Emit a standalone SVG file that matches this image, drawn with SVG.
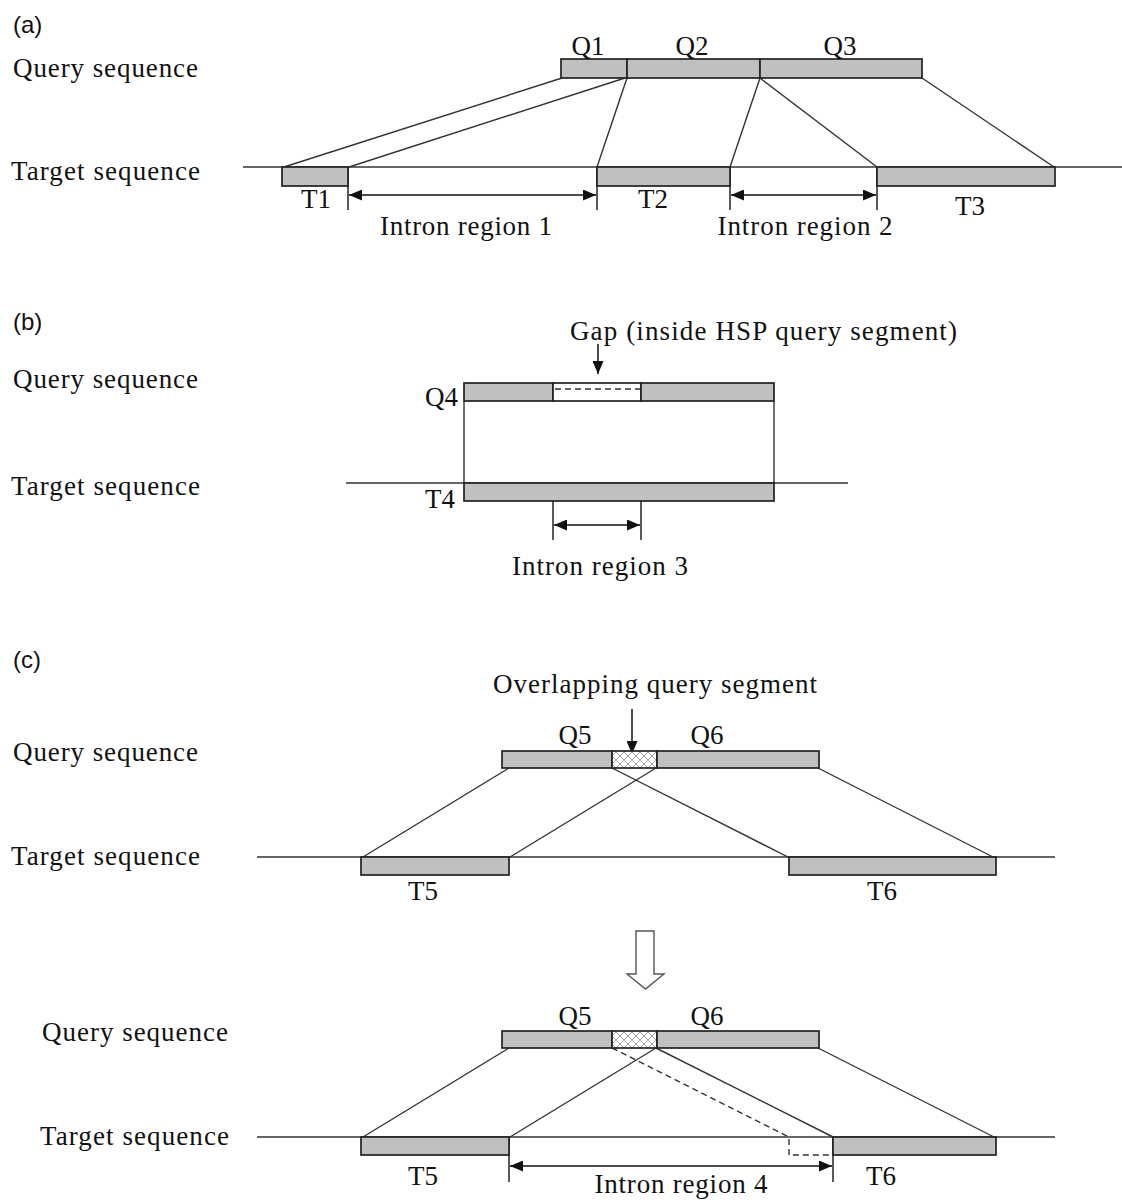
<svg xmlns="http://www.w3.org/2000/svg" width="1122" height="1203" viewBox="0 0 1122 1203">
<style>
  text { font-family: "Liberation Serif", "Times New Roman", serif; font-size: 27px; fill: #111; }
  .pl { font-family: "Liberation Sans", Arial, sans-serif; font-size: 24px; }
  .mid { text-anchor: middle; }
  .end { text-anchor: end; }
  .seg { fill: #c0c0c0; stroke: #222; stroke-width: 1.7; }
  .gap { fill: #fff; stroke: #222; stroke-width: 1.7; }
  .hatch { fill: url(#xh); stroke: #222; stroke-width: 1.7; }
  .ln { stroke: #333; stroke-width: 1.4; fill: none; }
  .tick { stroke: #222; stroke-width: 1.5; fill: none; }
  .dash { stroke: #333; stroke-width: 1.4; fill: none; stroke-dasharray: 6 4; }
  .dbl { stroke: #111; stroke-width: 1.5; fill: none; marker-start: url(#ah); marker-end: url(#ah); }
  .down { stroke: #111; stroke-width: 1.5; fill: none; marker-end: url(#ah); }
</style>
<defs>
  <marker id="ah" markerWidth="13" markerHeight="11" refX="13" refY="5.5" orient="auto-start-reverse" markerUnits="userSpaceOnUse">
    <path d="M0,0 L13,5.5 L0,11 z" fill="#111"/>
  </marker>
  <pattern id="xh" width="8" height="8" patternUnits="userSpaceOnUse">
    <rect width="8" height="8" fill="#fff"/>
    <path d="M0,0 L8,8 M8,0 L0,8" stroke="#9a9a9a" stroke-width="0.9"/>
  </pattern>
</defs>

<!-- Panel (a) -->
<g id="panel-a-labels">
  <text class="pl" x="13" y="33">(a)</text>
  <text x="13" y="77" textLength="185">Query sequence</text>
  <text x="11" y="180" textLength="189">Target sequence</text>
</g>
<g id="connectors-a">
  <line class="ln" x1="243" y1="167" x2="1122" y2="167"/>
  <line class="ln" x1="562" y1="78" x2="284" y2="167"/>
  <line class="ln" x1="625" y1="78" x2="349" y2="167"/>
  <line class="ln" x1="627" y1="78" x2="597" y2="167"/>
  <line class="ln" x1="760" y1="78" x2="730" y2="167"/>
  <line class="ln" x1="760" y1="78" x2="877" y2="167"/>
  <line class="ln" x1="922" y1="78" x2="1054" y2="167"/>
  <line class="tick" x1="348" y1="167" x2="348" y2="210"/>
  <line class="tick" x1="597" y1="167" x2="597" y2="210"/>
  <line class="tick" x1="730" y1="167" x2="730" y2="210"/>
  <line class="tick" x1="877" y1="167" x2="877" y2="210"/>
  <line class="dbl" x1="349" y1="195" x2="596" y2="195"/>
  <line class="dbl" x1="731" y1="195" x2="876" y2="195"/>
</g>
<g id="Q1"><rect class="seg" x="561" y="59" width="66" height="19"/><text class="mid" x="588" y="55">Q1</text></g>
<g id="Q2"><rect class="seg" x="627" y="59" width="133" height="19"/><text class="mid" x="692" y="55">Q2</text></g>
<g id="Q3"><rect class="seg" x="760" y="59" width="162" height="19"/><text class="mid" x="840" y="55">Q3</text></g>
<g id="T1"><rect class="seg" x="282" y="167" width="66" height="19"/><text class="mid" x="316" y="208">T1</text></g>
<g id="T2"><rect class="seg" x="597" y="167" width="133" height="19"/><text class="mid" x="653" y="208">T2</text></g>
<g id="T3"><rect class="seg" x="877" y="167" width="178" height="19"/><text class="mid" x="970" y="215">T3</text></g>
<g id="intron1"><text class="mid" x="466" y="235" textLength="172">Intron region 1</text></g>
<g id="intron2"><text class="mid" x="805" y="235" textLength="175">Intron region 2</text></g>

<!-- Panel (b) -->
<g id="panel-b-labels">
  <text class="pl" x="13" y="330">(b)</text>
  <text x="13" y="388" textLength="185">Query sequence</text>
  <text x="11" y="495" textLength="189">Target sequence</text>
  <text x="570" y="340" textLength="387">Gap (inside HSP query segment)</text>
</g>
<g id="connectors-b">
  <line class="ln" x1="346" y1="483" x2="848" y2="483"/>
  <line class="ln" x1="464" y1="401" x2="464" y2="483"/>
  <line class="ln" x1="774" y1="401" x2="774" y2="483"/>
  <line class="down" x1="598" y1="344" x2="598" y2="374"/>
  <line class="tick" x1="553" y1="501" x2="553" y2="540"/>
  <line class="tick" x1="641" y1="501" x2="641" y2="540"/>
  <line class="dbl" x1="554" y1="525" x2="640" y2="525"/>
</g>
<g id="Q4">
  <rect class="seg" x="464" y="383" width="89" height="18"/>
  <rect class="gap" x="553" y="383" width="88" height="18"/>
  <rect class="seg" x="641" y="383" width="133" height="18"/>
  <line class="dash" x1="555" y1="389" x2="640" y2="389"/>
  <text class="end" x="458" y="406">Q4</text>
</g>
<g id="T4"><rect class="seg" x="464" y="483" width="310" height="18"/><text class="end" x="455" y="508">T4</text></g>
<g id="intron3"><text class="mid" x="600" y="575" textLength="176">Intron region 3</text></g>

<!-- Panel (c) upper -->
<g id="panel-c-labels">
  <text class="pl" x="13" y="668">(c)</text>
  <text x="13" y="761" textLength="185">Query sequence</text>
  <text x="11" y="865" textLength="189">Target sequence</text>
  <text x="493" y="693" textLength="324">Overlapping query segment</text>
</g>
<g id="connectors-c1">
  <line class="ln" x1="257" y1="857" x2="1055" y2="857"/>
  <line class="down" x1="632" y1="709" x2="632" y2="754"/>
  <line class="ln" x1="509" y1="768" x2="363" y2="857"/>
  <line class="ln" x1="656" y1="768" x2="510" y2="857"/>
  <line class="ln" x1="612" y1="768" x2="788" y2="857"/>
  <line class="ln" x1="818" y1="768" x2="993" y2="857"/>
</g>
<g id="Q5-Q6-c1">
  <rect class="seg" x="502" y="751" width="110" height="17"/>
  <rect class="hatch" x="612" y="751" width="45" height="17"/>
  <rect class="seg" x="657" y="751" width="162" height="17"/>
  <text class="mid" x="575" y="744">Q5</text>
  <text class="mid" x="707" y="744">Q6</text>
</g>
<g id="T5-c1"><rect class="seg" x="361" y="857" width="148" height="18"/><text class="mid" x="423" y="900">T5</text></g>
<g id="T6-c1"><rect class="seg" x="789" y="857" width="207" height="18"/><text class="mid" x="882" y="900">T6</text></g>

<g id="transform-arrow">
  <polygon points="636,931 654,931 654,974 664,974 645.5,989 627,974 636,974" fill="#fff" stroke="#555" stroke-width="1.4"/>
</g>

<!-- Panel (c) lower -->
<g id="panel-c2-labels">
  <text x="42" y="1041" textLength="186">Query sequence</text>
  <text x="40" y="1145" textLength="189">Target sequence</text>
</g>
<g id="connectors-c2">
  <line class="ln" x1="257" y1="1137" x2="1055" y2="1137"/>
  <line class="ln" x1="509" y1="1048" x2="363" y2="1137"/>
  <line class="ln" x1="656" y1="1048" x2="510" y2="1137"/>
  <line class="ln" x1="656" y1="1048" x2="833" y2="1137"/>
  <line class="ln" x1="818" y1="1048" x2="994" y2="1137"/>
  <polyline class="dash" points="612,1048 789,1137 789,1155 833,1155"/>
  <line class="tick" x1="509" y1="1137" x2="509" y2="1182"/>
  <line class="tick" x1="833" y1="1137" x2="833" y2="1182"/>
  <line class="dbl" x1="510" y1="1166" x2="832" y2="1166"/>
</g>
<g id="Q5-Q6-c2">
  <rect class="seg" x="502" y="1031" width="110" height="17"/>
  <rect class="hatch" x="612" y="1031" width="45" height="17"/>
  <rect class="seg" x="657" y="1031" width="162" height="17"/>
  <text class="mid" x="575" y="1025">Q5</text>
  <text class="mid" x="707" y="1025">Q6</text>
</g>
<g id="T5-c2"><rect class="seg" x="361" y="1137" width="148" height="18"/><text class="mid" x="423" y="1185">T5</text></g>
<g id="T6-c2"><rect class="seg" x="833" y="1137" width="163" height="18"/><text class="mid" x="881" y="1185">T6</text></g>
<g id="intron4"><text class="mid" x="681" y="1193" textLength="173">Intron region 4</text></g>
</svg>
